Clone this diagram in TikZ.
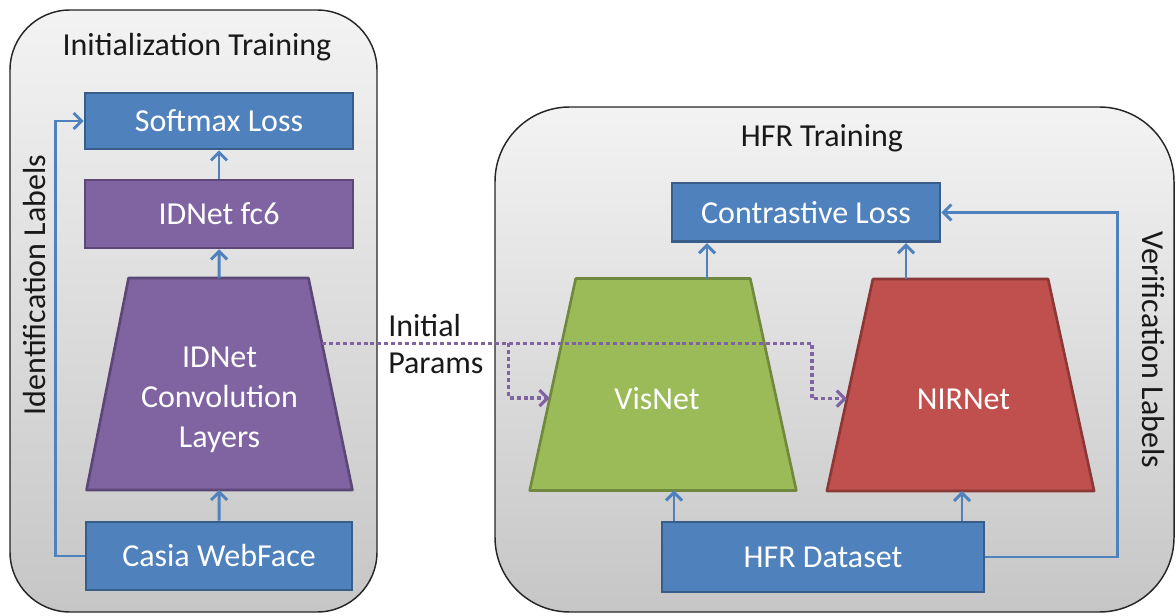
\documentclass[tikz,border=0pt]{standalone}
\usepackage{fontspec}
\setmainfont{Carlito}
\usetikzlibrary{arrows.meta,calc}

\definecolor{boxblue}{RGB}{79,129,189}
\definecolor{boxblueline}{RGB}{56,93,138}
\definecolor{netpurple}{RGB}{128,100,162}
\definecolor{netpurpleline}{RGB}{92,71,118}
\definecolor{netgreen}{RGB}{155,187,89}
\definecolor{netgreenline}{RGB}{113,137,63}
\definecolor{netred}{RGB}{192,80,77}
\definecolor{netredline}{RGB}{140,56,54}
\definecolor{paneltop}{RGB}{243,243,243}
\definecolor{panelbot}{RGB}{198,198,198}

\tikzset{
  panel/.style={draw=black!85, line width=1.1pt, top color=paneltop, bottom color=panelbot},
  bluebox/.style={draw=boxblueline, fill=boxblue, line width=2pt, text=white,
    font=\fontsize{24}{30}\selectfont, inner sep=0pt},
  purplebox/.style={bluebox, draw=netpurpleline, fill=netpurple},
  % invisible frame of a network block; the tapered outline is drawn from its anchors
  netframe/.style={rectangle, inner sep=0pt, minimum height=158.5pt},
  netbody/.style={line width=2pt, line join=round},
  nettext/.style={text=white, font=\fontsize{24}{30}\selectfont, align=center, inner sep=0pt},
  lbl/.style={text=black!90, font=\fontsize{24}{28}\selectfont, inner sep=0pt},
  flow/.style={draw=boxblue, line width=2.2pt, -{Straight Barb[length=6pt,width=12pt]}},
  param/.style={draw=netpurple, line width=2.4pt, dash pattern=on 3pt off 2.2pt,
    -{Straight Barb[length=6pt,width=12pt]}},
}

\begin{document}
\begin{tikzpicture}[x=0.75pt,y=-0.75pt]
\useasboundingbox (0,0) rectangle (1176,616);

% ---- initialization stage ----
\path[panel, rounded corners=45pt] (10,10) rectangle (377,612);
\node[lbl] (inittitle) at (197,47) {Initialization Training};
\node[bluebox, minimum width=201pt, minimum height=42pt] (softmax) at (219,121) {Softmax Loss};
\node[purplebox, minimum width=201pt, minimum height=51pt] (fc6) at (219,214) {IDNet fc6};

\node[netframe, minimum width=199pt] (idconv) at (219.5,384) {};
\draw[netbody, draw=netpurpleline, fill=netpurple]
  (idconv.south west) -- (idconv.south east) -- ($(idconv.north east)+(-44,0)$)
  -- ($(idconv.north west)+(42,0)$) -- cycle;
\node[nettext] (idconvtext) at ($(idconv.center)+(0,16)$) {IDNet\\Convolution\\Layers};

\node[bluebox, minimum width=199.5pt, minimum height=51pt] (casia) at (219,556) {Casia WebFace};
\node[lbl, rotate=90] (idlabels) at (35,285) {Identification Labels};

\draw[flow] (casia) -- (idconv);
\draw[flow] (idconv) -- (fc6);
\draw[flow] (fc6) -- (softmax);
\draw[flow] (casia.west) -- ++(-29,0) |- (softmax.west);

% ---- HFR stage ----
\path[panel, rounded corners=56pt] (495,107) rectangle (1174,612);
\node[lbl] (hfrtitle) at (822,138) {HFR Training};
\node[bluebox, minimum width=201pt, minimum height=44pt] (closs) at (806,212.5) {Contrastive Loss};

\node[netframe, minimum width=199.5pt] (vis) at (663,384.5) {};
\draw[netbody, draw=netgreenline, fill=netgreen]
  (vis.south west) -- (vis.south east) -- ($(vis.north east)+(-46,0)$)
  -- ($(vis.north west)+(46,0)$) -- cycle;
\node[nettext] (vistext) at ($(vis.center)+(-6,14)$) {VisNet};

\node[netframe, minimum width=200pt] (nir) at (960.5,385) {};
\draw[netbody, draw=netredline, fill=netred]
  (nir.south west) -- (nir.south east) -- ($(nir.north east)+(-46,0)$)
  -- ($(nir.north west)+(46,0)$) -- cycle;
\node[nettext] (nirtext) at ($(nir.center)+(3,14)$) {NIRNet};

\node[bluebox, minimum width=241.5pt, minimum height=52.5pt] (hfr) at (823,557) {HFR Dataset};
\node[lbl, rotate=-90] (verlabels) at (1153,350) {Verification Labels};

\draw[flow] ([xshift=-111.75pt]hfr.north) -- ([xshift=-111.75pt]hfr.north |- vis.south);
\draw[flow] ([xshift=104.25pt]hfr.north) -- ([xshift=104.25pt]hfr.north |- nir.south);
\draw[flow] ([xshift=-74.25pt]closs.south |- vis.north) -- ([xshift=-74.25pt]closs.south);
\draw[flow] ([xshift=75pt]closs.south |- nir.north) -- ([xshift=75pt]closs.south);
\draw[flow] (hfr.east) -- ++(132,0) |- (closs.east);

% ---- parameter transfer ----
\node[lbl, align=left, anchor=west] (params) at (388,344) {Initial\\Params};
\coordinate (src) at ($($(idconv.north east)+(-44,0)$)!0.307!(idconv.south east)$);
\coordinate (visin) at ($($(vis.north west)+(46,0)$)!0.564!(vis.south west)$);
\coordinate (nirin) at ($($(nir.north west)+(46,0)$)!0.564!(nir.south west)$);
\draw[param] (src) -| ($(visin)+(-41,0)$) -- (visin);
\draw[param] (src) -| ($(nirin)+(-35,0)$) -- (nirin);
\end{tikzpicture}
\end{document}
